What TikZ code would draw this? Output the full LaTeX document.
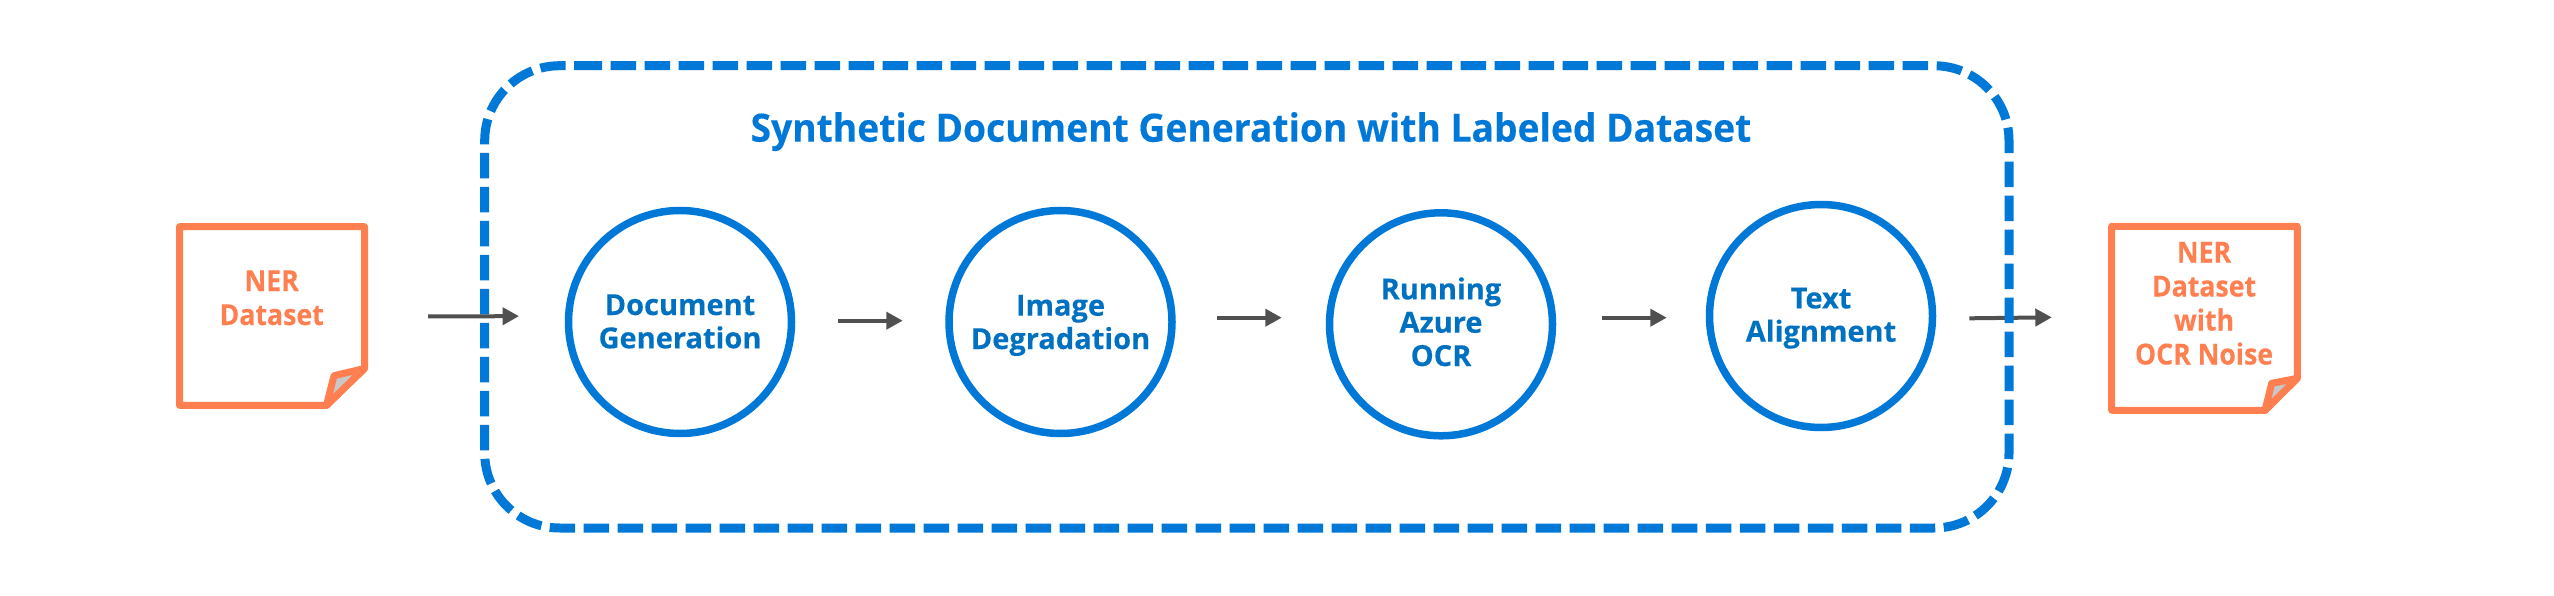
\documentclass[tikz,border=0pt]{standalone}
\usepackage{fontspec}
\setmainfont[FakeBold=0.25]{Open Sans}
\newfontfamily\notefont[FakeStretch=0.92,FakeBold=0.25]{Open Sans}
\newfontfamily\titlefont[FakeStretch=0.954,FakeBold=0.25]{Open Sans}
\usetikzlibrary{arrows.meta}
\definecolor{frameblue}{HTML}{0078D7}
\definecolor{textblue}{HTML}{0070C0}
\definecolor{coral}{HTML}{FF7F50}
\definecolor{foldgray}{HTML}{C8C8C8}
\definecolor{arrowgray}{HTML}{505050}
\tikzset{
  x=1pt,y=-1pt,
  stage/.style={circle,draw=frameblue,line width=7.5pt,minimum size=223pt,inner sep=0pt,
    align=center,text=textblue,text depth=0pt,font=\fontsize{29}{33.3}\selectfont\bfseries},
  notelabel/.style={align=center,text=coral,inner sep=0pt,text depth=0pt,font=\notefont\fontsize{29}{34}\selectfont\bfseries},
  noteframe/.style={rectangle,inner sep=0pt},
  notebody/.style={draw=coral,line width=7pt,line join=round},
  notefold/.style={draw=coral,fill=foldgray,line width=7pt,line join=round},
  flow/.style={draw=arrowgray,line width=4pt,-{Triangle[length=16.5pt,width=17pt]}},
  dashframe/.style={draw=frameblue,line width=9pt,dash pattern=on 25.5pt off 8.5pt,rounded corners=75pt},
  headline/.style={text=frameblue,inner sep=0pt,font=\titlefont\fontsize{39}{44}\selectfont\bfseries}
}
\begin{document}
\begin{tikzpicture}
\useasboundingbox (0,0) rectangle (2554,596);
% notes
\node[noteframe,minimum width=192pt,minimum height=186pt] (noteA) at (272,316) {};
\node[noteframe,minimum width=193pt,minimum height=191pt] (noteB) at (2204.5,318.5) {};
\path[notebody] (179.5,226.7) -- (364.5,226.7) -- (364.5,368.5) -- (326.5,405.3) -- (179.5,405.3) -- cycle;
\path[notefold] (326.5,405.3) -- (334,375.7) -- (364.5,368.5) -- cycle;
\path[notebody] (2111.7,226.3) -- (2297.3,226.3) -- (2297.3,378.3) -- (2265,410.3) -- (2111.7,410.3) -- cycle;
\path[notefold] (2265,410.3) -- (2271.7,383.3) -- (2297.3,378.3) -- cycle;
\node[notelabel,text height=55pt] (labelA) at (271.7,297.5) {NER\\Dataset};
\node[notelabel,text height=124pt] (labelB) at (2204,302.5) {NER\\Dataset\\with\\OCR Noise};
% stages
\node[stage,text height=52.6pt] (docgen) at (680,322) {Document\\Generation};
\node[stage,text height=54pt] (imgdeg) at (1060.5,322) {Image\\Degradation};
\node[stage,text height=83.4pt] (ocr) at (1441,324.3) {Running\\Azure\\OCR};
\node[stage,text height=51.4pt] (textalign) at (1821,316) {Text\\Alignment};
% last arrow lies under the frame
\draw[flow,shorten <=33pt,shorten >=56pt] ([yshift=-2.7pt]textalign.east) -- ([yshift=1.8pt]noteB.west);
% frame
\path[dashframe] (576.7,65.7) -- (2009,65.7) -- (2009,528) -- (484.7,528) -- (484.7,65.7) -- (576.7,65.7);
\node[headline,anchor=base] (title) at (1251,141.7) {Synthetic Document Generation with Labeled Dataset};
% arrows
\draw[flow,shorten <=60pt,shorten >=45.7pt] ([yshift=-0.7pt]noteA.east) -- ([yshift=6pt]docgen.west);
\draw[flow,shorten <=43pt,shorten >=42.5pt] ([yshift=1.3pt]docgen.east) -- ([yshift=1.3pt]imgdeg.west);
\draw[flow,shorten <=41.5pt,shorten >=44pt] ([yshift=4.3pt]imgdeg.east) -- ([yshift=6.6pt]ocr.west);
\draw[flow,shorten <=46pt,shorten >=39pt] ([yshift=6.6pt]ocr.east) -- ([yshift=-1.7pt]textalign.west);
\end{tikzpicture}
\end{document}
